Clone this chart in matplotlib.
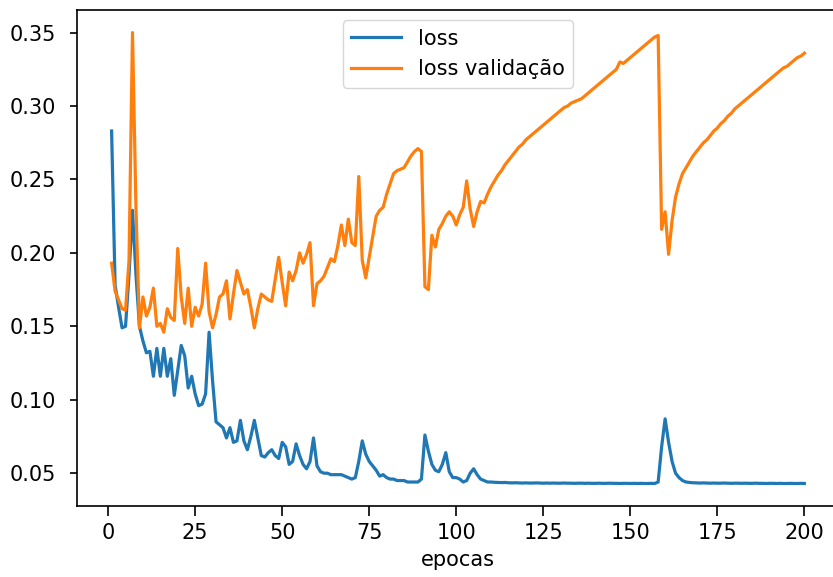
import matplotlib
matplotlib.use("Agg")
import matplotlib.pyplot as plt

# epochs 1..200
epocas = list(range(1, 201))

loss = [
    0.283, 0.178, 0.163, 0.149, 0.150, 0.185, 0.229, 0.185, 0.150, 0.140,
    0.132, 0.133, 0.116, 0.135, 0.116, 0.135, 0.116, 0.128, 0.103, 0.120,
    0.137, 0.130, 0.108, 0.116, 0.104, 0.096, 0.097, 0.104, 0.146, 0.113,
    0.085, 0.083, 0.081, 0.074, 0.081, 0.071, 0.072, 0.086, 0.072, 0.066,
    0.075, 0.086, 0.074, 0.062, 0.061, 0.064, 0.066, 0.062, 0.060, 0.071,
    0.068, 0.056, 0.058, 0.070, 0.062, 0.056, 0.053, 0.058, 0.074, 0.055,
    0.051, 0.050, 0.050, 0.049, 0.049, 0.049, 0.049, 0.048, 0.047, 0.046,
    0.047, 0.058, 0.072, 0.063, 0.058, 0.055, 0.052, 0.048, 0.049, 0.047,
    0.046, 0.046, 0.045, 0.045, 0.045, 0.044, 0.044, 0.044, 0.044, 0.046,
    0.076, 0.065, 0.056, 0.052, 0.051, 0.056, 0.064, 0.051, 0.047, 0.047,
    0.046, 0.044, 0.045, 0.050, 0.053, 0.049, 0.046, 0.045, 0.044, 0.0440,
    0.0438, 0.0437, 0.0436, 0.0437, 0.0435, 0.0434, 0.0435, 0.0434, 0.0433, 0.0434,
    0.0433, 0.0433, 0.0434, 0.0433, 0.0432, 0.0433, 0.0432, 0.0433, 0.0432, 0.0432,
    0.0433, 0.0432, 0.0432, 0.0431, 0.0432, 0.0432, 0.0431, 0.0432, 0.0431, 0.0431,
    0.0432, 0.0431, 0.0431, 0.0432, 0.0431, 0.0431, 0.0430, 0.0431, 0.0431, 0.0430,
    0.0431, 0.0430, 0.0431, 0.0430, 0.0430, 0.0431, 0.0430, 0.044, 0.068, 0.087,
    0.071, 0.058, 0.050, 0.047, 0.045, 0.044, 0.0437, 0.0435, 0.0434, 0.0433,
    0.0434, 0.0433, 0.0432, 0.0433, 0.0432, 0.0432, 0.0433, 0.0432, 0.0431, 0.0432,
    0.0432, 0.0431, 0.0432, 0.0431, 0.0431, 0.0432, 0.0431, 0.0431, 0.0430, 0.0431,
    0.0431, 0.0430, 0.0431, 0.0430, 0.0430, 0.0431, 0.0430, 0.0430, 0.0431, 0.0430,
]

loss_validacao = [
    0.193, 0.174, 0.168, 0.162, 0.161, 0.195, 0.350, 0.230, 0.149, 0.170,
    0.157, 0.163, 0.176, 0.150, 0.152, 0.146, 0.162, 0.156, 0.154, 0.203,
    0.170, 0.152, 0.176, 0.150, 0.163, 0.157, 0.165, 0.193, 0.160, 0.149,
    0.158, 0.170, 0.172, 0.181, 0.155, 0.172, 0.188, 0.180, 0.172, 0.175,
    0.163, 0.149, 0.162, 0.172, 0.170, 0.168, 0.167, 0.182, 0.197, 0.180,
    0.164, 0.187, 0.181, 0.188, 0.200, 0.193, 0.199, 0.207, 0.164, 0.179,
    0.181, 0.184, 0.190, 0.196, 0.194, 0.205, 0.219, 0.205, 0.223, 0.207,
    0.205, 0.252, 0.195, 0.183, 0.197, 0.211, 0.225, 0.229, 0.231, 0.240,
    0.247, 0.254, 0.256, 0.257, 0.258, 0.262, 0.266, 0.269, 0.271, 0.269,
    0.177, 0.175, 0.212, 0.204, 0.216, 0.220, 0.225, 0.228, 0.225, 0.219,
    0.226, 0.231, 0.249, 0.230, 0.218, 0.228, 0.235, 0.234, 0.240, 0.245,
    0.249, 0.253, 0.256, 0.260, 0.263, 0.266, 0.269, 0.272, 0.274, 0.277,
    0.279, 0.281, 0.283, 0.285, 0.287, 0.289, 0.291, 0.293, 0.295, 0.297,
    0.299, 0.300, 0.302, 0.303, 0.304, 0.305, 0.307, 0.309, 0.311, 0.313,
    0.315, 0.317, 0.319, 0.321, 0.323, 0.325, 0.330, 0.329, 0.331, 0.333,
    0.335, 0.337, 0.339, 0.341, 0.343, 0.345, 0.347, 0.348, 0.216, 0.228,
    0.199, 0.222, 0.238, 0.247, 0.254, 0.258, 0.262, 0.266, 0.269, 0.272,
    0.275, 0.277, 0.280, 0.283, 0.285, 0.288, 0.290, 0.293, 0.295, 0.298,
    0.300, 0.302, 0.304, 0.306, 0.308, 0.310, 0.312, 0.314, 0.316, 0.318,
    0.320, 0.322, 0.324, 0.326, 0.327, 0.329, 0.331, 0.333, 0.334, 0.336,
]

plt.rcParams['font.size'] = 15

fig = plt.figure(figsize=(8.33, 5.77), dpi=100)
# the reference is cut off on the right, so the axes run past the figure edge
ax = fig.add_axes([0.0924, 0.123, 0.9148, 0.8596])

ax.plot(epocas, loss, label='loss', linewidth=2.3)
ax.plot(epocas, loss_validacao, label='loss validação', linewidth=2.3)

ax.set_xlabel('epocas', labelpad=5)
ax.set_xticks([0, 25, 50, 75, 100, 125, 150, 175, 200])
ax.set_yticks([0.05, 0.10, 0.15, 0.20, 0.25, 0.30, 0.35])
ax.tick_params(axis='x', length=7, width=1.2, pad=5)
ax.tick_params(axis='y', length=5, width=1.2, pad=10)
for s in ax.spines.values():
    s.set_linewidth(1.2)

ax.legend(loc='upper center', handlelength=2.4)

fig.savefig('out.png', dpi=100)
